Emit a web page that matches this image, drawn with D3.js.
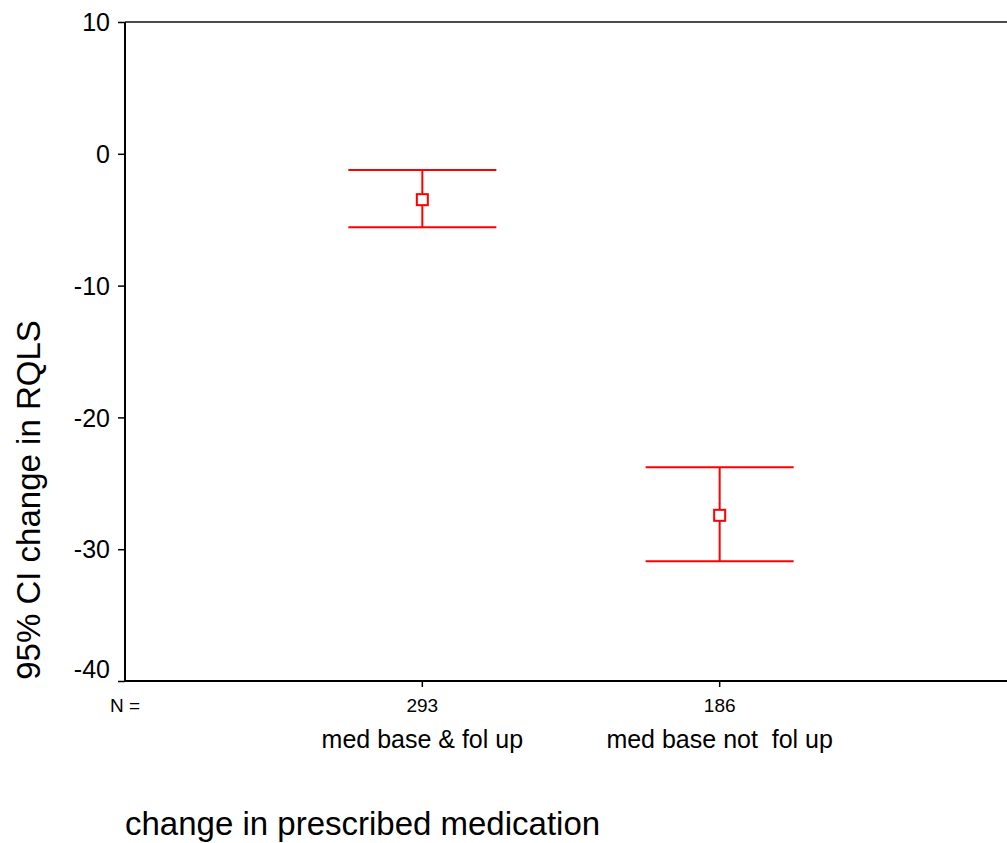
<!DOCTYPE html>
<html>
<head>
<meta charset="utf-8">
<script src="https://cdn.jsdelivr.net/npm/d3@7"></script>
<style>
  body { margin: 0; background: #fff; }
  text { font-family: Arial, "Liberation Sans", sans-serif; fill: #000; }
</style>
</head>
<body>
<script>
// data
var categories = ["med base & fol up", "med base not  fol up"];
var counts = [293, 186];
var means = [-3.48, -27.43];
var upper = [-1.23, -23.79];
var lower = [-5.58, -30.92];
var yTicks = [10, 0, -10, -20, -30, -40];

var width = 1007,
    height = 843;

var svg = d3.select('body')
    .append('svg')
    .attr('width', width)
    .attr('height', height);

var x = d3.scalePoint()
    .domain(["N ="].concat(categories, ["end"]))
    .range([125, 1017]);

var y = d3.scaleLinear()
    .domain([-40, 10])
    .range([681, 22]);

// top frame line
svg.append('line')
    .attr('x1', 125).attr('x2', width)
    .attr('y1', y(10)).attr('y2', y(10))
    .attr('stroke', '#111')
    .attr('stroke-width', 1.5);

// y axis
var yAxis = svg.append('g')
    .attr('transform', 'translate(125,0)')
    .call(d3.axisLeft(y).tickValues(yTicks).tickSize(7).tickPadding(8).tickFormat(function(d) { return String(d); }));
yAxis.select('.domain').attr('stroke-width', 2).attr('d', 'M0,' + y(10) + 'V' + y(-40));
yAxis.selectAll('.tick line').attr('stroke-width', 1.5);
yAxis.selectAll('.tick text')
    .style('font-size', '25px')
    .attr('dy', function(d) { return d === -40 ? '-0.15em' : '0.35em'; });

// x axis line
svg.append('line')
    .attr('x1', 124).attr('x2', width)
    .attr('y1', y(-40)).attr('y2', y(-40))
    .attr('stroke', '#000')
    .attr('stroke-width', 2);

// x ticks at categories
svg.selectAll('.xtick')
    .data(categories)
    .enter()
    .append('line')
    .attr('x1', function(d) { return x(d); })
    .attr('x2', function(d) { return x(d); })
    .attr('y1', y(-40))
    .attr('y2', y(-40) + 6)
    .attr('stroke', '#000')
    .attr('stroke-width', 1.5);

// N = row
svg.append('text')
    .attr('x', x("N =")).attr('y', 712)
    .attr('text-anchor', 'middle')
    .style('font-size', '19px')
    .text("N =");

svg.selectAll('.count')
    .data(counts)
    .enter()
    .append('text')
    .attr('x', function(d, i) { return x(categories[i]); })
    .attr('y', 712)
    .attr('text-anchor', 'middle')
    .style('font-size', '19px')
    .text(function(d) { return d; });

svg.selectAll('.cat')
    .data(categories)
    .enter()
    .append('text')
    .attr('x', function(d) { return x(d); })
    .attr('y', 748)
    .attr('text-anchor', 'middle')
    .style('font-size', '25px')
    .style('white-space', 'pre')
    .text(function(d) { return d; });

// error bars
var bars = svg.selectAll('.bar')
    .data(categories)
    .enter()
    .append('g')
    .attr('stroke', '#ff0000')
    .attr('stroke-width', 2)
    .attr('fill', 'none');

bars.append('line')
    .attr('x1', function(d) { return x(d); })
    .attr('x2', function(d) { return x(d); })
    .attr('y1', function(d, i) { return y(upper[i]); })
    .attr('y2', function(d, i) { return y(lower[i]); });

bars.append('line')
    .attr('x1', function(d) { return x(d) - 74; })
    .attr('x2', function(d) { return x(d) + 74; })
    .attr('y1', function(d, i) { return y(upper[i]); })
    .attr('y2', function(d, i) { return y(upper[i]); });

bars.append('line')
    .attr('x1', function(d) { return x(d) - 74; })
    .attr('x2', function(d) { return x(d) + 74; })
    .attr('y1', function(d, i) { return y(lower[i]); })
    .attr('y2', function(d, i) { return y(lower[i]); });

bars.append('rect')
    .attr('x', function(d) { return x(d) - 5.5; })
    .attr('y', function(d, i) { return y(means[i]) - 5.5; })
    .attr('width', 11)
    .attr('height', 11)
    .attr('fill', '#fff');

// axis titles
svg.append('text')
    .attr('x', 125).attr('y', 835)
    .style('font-size', '33px')
    .text("change in prescribed medication");

svg.append('text')
    .attr('transform', 'translate(40,500) rotate(-90)')
    .attr('text-anchor', 'middle')
    .style('font-size', '33px')
    .text("95% CI change in RQLS");
</script>
</body>
</html>
